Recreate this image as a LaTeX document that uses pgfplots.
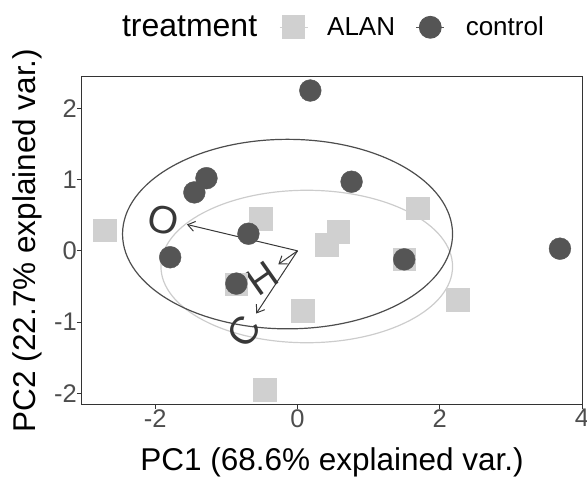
\documentclass[border=0pt]{standalone}
\usepackage{fontspec}
\setmainfont{Liberation Sans}
\usepackage{pgfplots}
\pgfplotsset{compat=1.18}
\usetikzlibrary{arrows.meta}

\definecolor{ctrl}{HTML}{555555}
\definecolor{alan}{HTML}{D0D0D0}
\definecolor{ctrlell}{HTML}{4D4D4D}
\definecolor{alanell}{HTML}{CCCCCC}
\definecolor{arrowc}{HTML}{383838}
\definecolor{tickc}{HTML}{4D4D4D}
\definecolor{framec}{HTML}{333333}

% PCA scores
\pgfplotstableread{
x y
-2.71 0.29
-0.52 0.45
0.57 0.27
0.41 0.09
1.69 0.60
1.50 -0.12
-0.86 -0.47
0.07 -0.84
2.25 -0.69
-0.46 -1.95
}\alandata
\pgfplotstableread{
x y
0.18 2.25
-1.28 1.02
-1.45 0.82
0.76 0.97
-0.69 0.24
-1.79 -0.09
-0.86 -0.46
1.50 -0.12
3.69 0.03
}\ctrldata

\begin{document}
\begin{tikzpicture}
\path[use as bounding box] (-82pt,-73pt) rectangle (505pt,404pt);
\begin{axis}[
  at={(0pt,0pt)}, anchor=south west,
  width=500pt, height=327pt, scale only axis,
  xmin=-3.03, xmax=4.0, ymin=-2.15, ymax=2.44,
  axis line style={framec, line width=1pt},
  xtick={-2,0,2,4}, xticklabels={-2,0,2,4},
  ytick={-2,-1,0,1,2}, yticklabels={-2,-1,0,1,2},
  xtick pos=left, ytick pos=left,
  tick align=outside, major tick length=5pt,
  tick style={framec, line width=1pt},
  ticklabel style={font=\fontsize{25.5}{30}\selectfont, text=tickc, inner sep=0pt},
  xticklabel style={anchor=north},
  yticklabel style={anchor=east},
  xlabel={PC1 (68.6\% explained var.)},
  ylabel={PC2 (22.7\% explained var.)},
  xlabel style={font=\fontsize{31.5}{36}\selectfont, inner sep=0pt,
    at={([yshift=-66pt]axis description cs:0.5,0)}, anchor=base},
  ylabel style={font=\fontsize{31.5}{36}\selectfont, inner sep=0pt,
    at={([xshift=-46pt]axis description cs:0,0.5)}, anchor=base},
  legend columns=-1,
  legend style={draw=none, fill=none, inner sep=0pt, outer sep=0pt,
    at={(axis description cs:0.08,1.152)}, anchor=west,
    font=\fontsize{26}{30}\selectfont,
    nodes={inner sep=0pt},
    /tikz/column 1/.style={column sep=0pt},
    /tikz/column 2/.style={column sep=22pt},
    /tikz/column 3/.style={column sep=19pt},
    /tikz/column 4/.style={column sep=20.7pt},
    /tikz/column 5/.style={column sep=21pt}},
  legend cell align=left,
]
\addlegendimage{empty legend}
\addlegendentry{\fontsize{32}{36}\selectfont treatment}
\addlegendimage{alan, line width=1pt, mark=square*, mark size=11.3pt,
  legend image code/.code={\draw[mark repeat=2, mark phase=2]
    plot coordinates {(0pt,0pt) (14pt,0pt) (28pt,0pt)};}}
\addlegendentry{ALAN}
\addlegendimage{ctrl, line width=1pt, mark=*, mark size=10.9pt,
  legend image code/.code={\draw[mark repeat=2, mark phase=2]
    plot coordinates {(0pt,0pt) (14pt,0pt) (28pt,0pt)};}}
\addlegendentry{control}

% loading arrows
\draw[arrowc, line width=1pt, -{Straight Barb[length=7pt, width=10pt]}]
  (axis cs:0,0) -- (axis cs:-1.555,0.37);
\draw[arrowc, line width=1pt, -{Straight Barb[length=7pt, width=10pt]}]
  (axis cs:0,0) -- (axis cs:-0.27,-0.19);
\draw[arrowc, line width=1pt, -{Straight Barb[length=7pt, width=10pt]}]
  (axis cs:0,0) -- (axis cs:-0.58,-0.88);

\addplot[forget plot, only marks, mark=square*, mark size=11.3pt,
  color=alan] table {\alandata};
\addplot[forget plot, only marks, mark=*, mark size=10.9pt,
  color=ctrl] table {\ctrldata};

% normal-data ellipses
\draw[alanell, line width=1.2pt] (axis cs:0.13,-0.22)
  ellipse [x radius=2.05, y radius=1.07];
\draw[ctrlell, line width=1.2pt] (axis cs:-0.14,0.235)
  ellipse [x radius=2.32, y radius=1.33];

\node[arrowc, font=\fontsize{39}{44}\selectfont, rotate=-14]
  at (axis cs:-1.885,0.425) {O};
\node[arrowc, font=\fontsize{39}{44}\selectfont, rotate=35]
  at (axis cs:-0.50,-0.385) {H};
\node[arrowc, font=\fontsize{39}{44}\selectfont, rotate=56.6]
  at (axis cs:-0.745,-1.135) {C};
\end{axis}
\end{tikzpicture}
\end{document}
